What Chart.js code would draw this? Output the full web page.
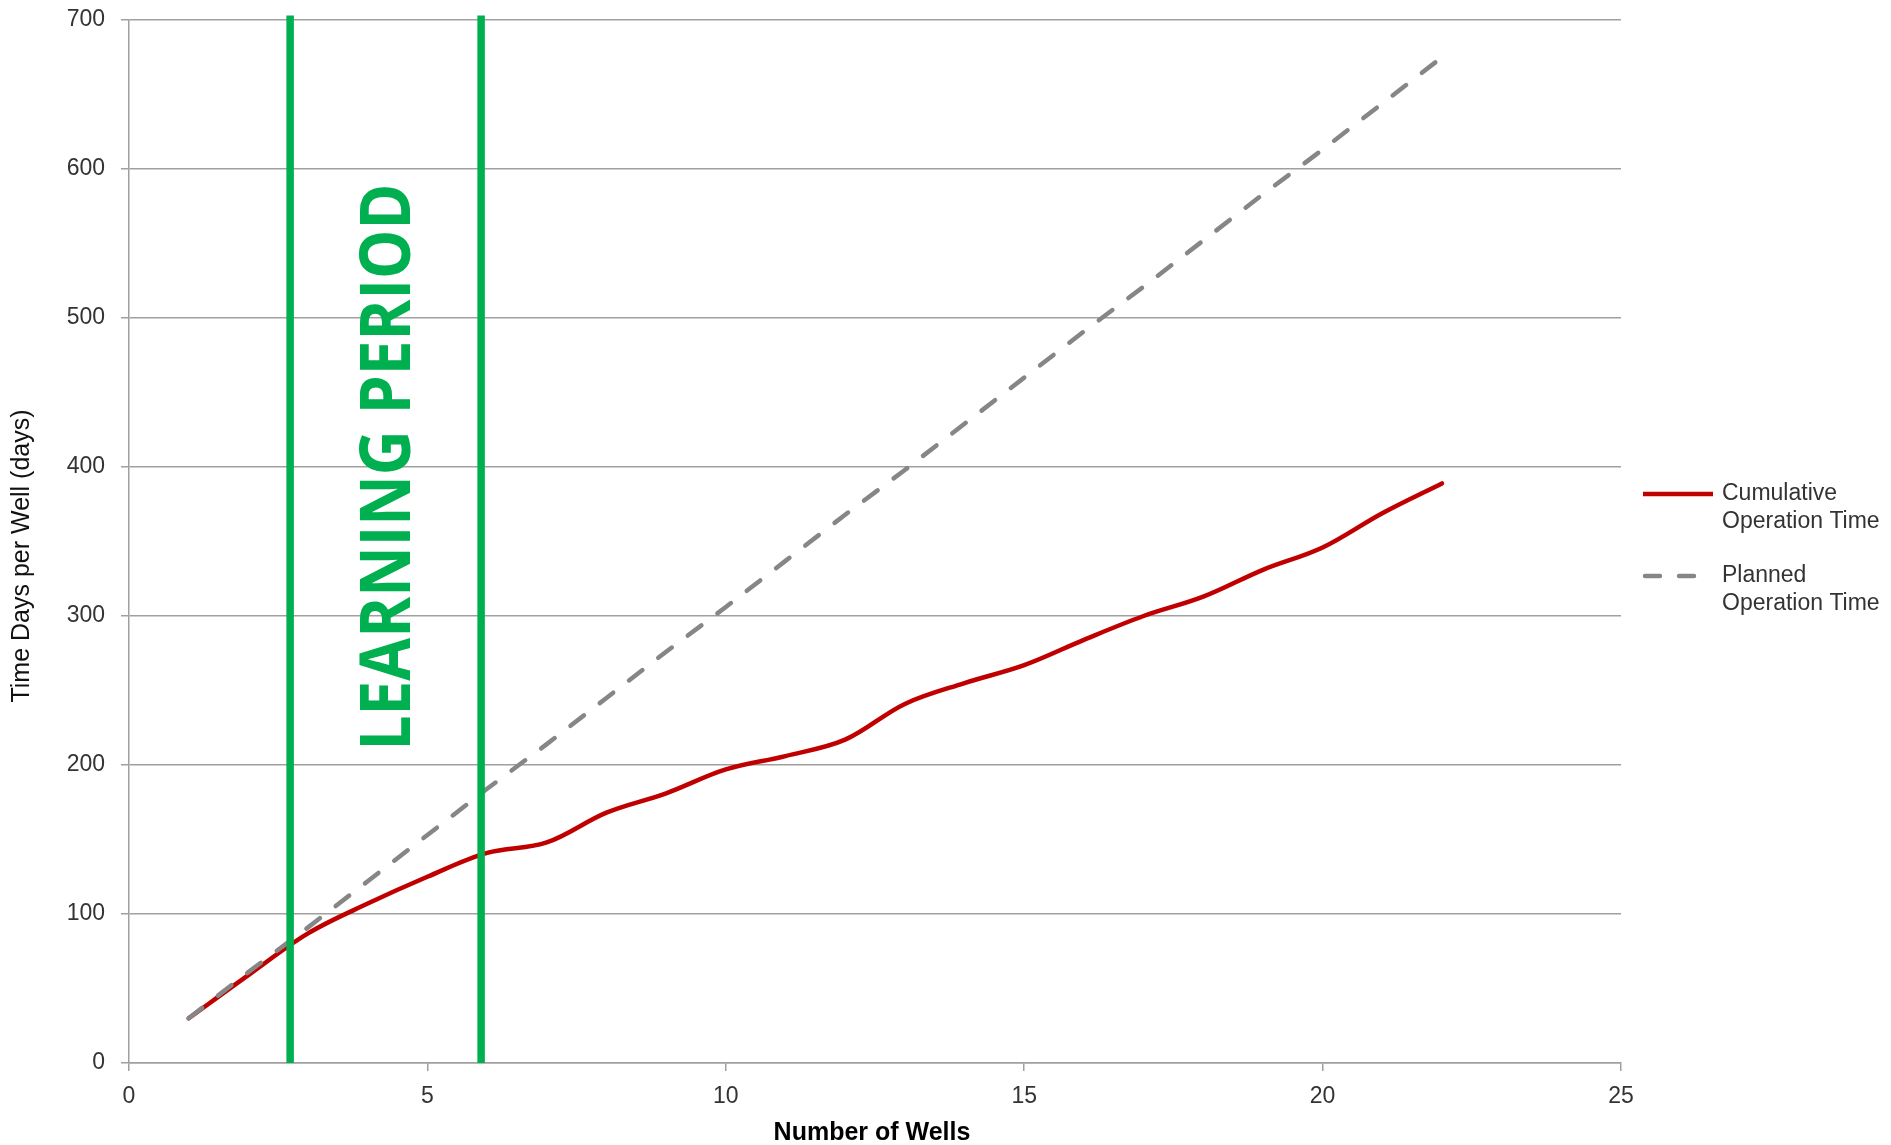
<!DOCTYPE html>
<html>
<head>
<meta charset="utf-8">
<script src="https://cdn.jsdelivr.net/npm/chart.js@4.4.1/dist/chart.umd.min.js"></script>
<style>
  html, body { margin: 0; padding: 0; background: #fff; }
  #wrap { width: 1891px; height: 1145px; }
</style>
</head>
<body>
<div id="wrap"><canvas id="myChart" width="1891" height="1145"></canvas></div>
<script>
/* global Chart */
const wells = [1, 2, 3, 4, 5, 6, 7, 8, 9, 10, 11, 12, 13, 14, 15, 16, 17, 18, 19, 20, 21, 22]
const cumulativeTime = [30, 59, 87, 107, 125, 141, 148, 168, 181, 197, 206, 217, 241, 255, 267, 284, 300, 313, 331, 346, 369, 389]
const plannedTime = [30, 61, 91, 122, 153, 184, 214, 245, 276, 306, 337, 368, 398, 429, 460, 491, 521, 552, 583, 613, 644, 675]
const learningPeriod = [2.7, 5.9]
const seriesLabels = [['Cumulative', 'Operation Time'], ['Planned', 'Operation Time']]
const xTitle = 'Number of Wells'
const yTitle = 'Time Days per Well (days)'
const bandLabel = 'LEARNING PERIOD'

const RED = '#C00000'
const GREY = '#868686'
const GREEN = '#00B050'
const GRID = '#a0a0a0'
const TEXT = '#333'
const FONT = "'Liberation Sans', Arial, sans-serif"

const toPoints = values => wells.map((w, i) => ({ x: w, y: values[i] }))

const greenLines = learningPeriod.map(x => ({
  label: 'learning',
  data: [{ x, y: 0 }, { x, y: 703 }],
  borderColor: GREEN,
  borderWidth: 7.5,
  pointRadius: 0,
  tension: 0,
  clip: false
}))

const extras = {
  id: 'extras',
  afterDatasetsDraw (chart) {
    const { ctx, scales: { x, y } } = chart
    // vertical label between the two green lines
    const size = 69
    ctx.save()
    ctx.font = `bold ${size}px 'Open Sans', sans-serif`
    const w = ctx.measureText(bandLabel).width
    ctx.translate(x.getPixelForValue(4.3), y.getPixelForValue(400))
    ctx.rotate(-Math.PI / 2)
    ctx.scale(567 / w, 1)
    ctx.fillStyle = GREEN
    ctx.textAlign = 'center'
    ctx.textBaseline = 'alphabetic'
    ctx.fillText(bandLabel, 0, size * 0.714 / 2)
    ctx.restore()
  },
  afterDraw (chart) {
    const { ctx } = chart
    ctx.save()
    ctx.fillStyle = '#111'
    ctx.font = `25px ${FONT}`
    ctx.translate(29, 556)
    ctx.rotate(-Math.PI / 2)
    ctx.textAlign = 'center'
    ctx.textBaseline = 'alphabetic'
    ctx.fillText(yTitle, 0, 0)
    ctx.restore()

    ctx.save()
    ctx.fillStyle = '#000'
    ctx.font = `bold 25px ${FONT}`
    ctx.textAlign = 'center'
    ctx.textBaseline = 'alphabetic'
    ctx.fillText(xTitle, 872, 1140)
    ctx.restore()

    // legend
    const items = [chart.data.datasets[3], chart.data.datasets[2]]
    const rows = [494, 576]
    items.forEach((ds, i) => {
      const ly = rows[i]
      ctx.save()
      ctx.strokeStyle = ds.borderColor
      ctx.lineWidth = ds.borderWidth
      ctx.lineCap = ds.borderDash ? 'round' : 'butt'
      ctx.setLineDash(ds.borderDash ? [15, 19] : [])
      ctx.beginPath()
      ctx.moveTo(ds.borderDash ? 1645 : 1643, ly)
      ctx.lineTo(1713, ly)
      ctx.stroke()
      ctx.fillStyle = TEXT
      ctx.font = `23px ${FONT}`
      ctx.textAlign = 'left'
      ctx.textBaseline = 'middle'
      seriesLabels[i].forEach((t, j) => ctx.fillText(t, 1722, ly + j * 28))
      ctx.restore()
    })
  }
}

const config = {
  type: 'line',
  data: {
    datasets: [
      ...greenLines,
      {
        label: 'Planned Operation Time',
        data: toPoints(plannedTime),
        borderColor: GREY,
        borderWidth: 4.5,
        borderDash: [17, 20],
        borderCapStyle: 'round',
        pointRadius: 0,
        tension: 0
      },
      {
        label: 'Cumulative Operation Time',
        data: toPoints(cumulativeTime),
        borderColor: RED,
        borderWidth: 4.5,
        borderCapStyle: 'round',
        pointRadius: 0,
        tension: 0.35
      }
    ]
  },
  options: {
    responsive: false,
    animation: false,
    devicePixelRatio: 1,
    layout: { padding: { top: 20, right: 270, left: 0, bottom: 0 } },
    plugins: { legend: { display: false }, tooltip: { enabled: false } },
    scales: {
      x: {
        type: 'linear',
        min: 0,
        max: 25,
        ticks: { stepSize: 5, padding: 12, color: TEXT, font: { family: FONT, size: 23 } },
        grid: { drawOnChartArea: false, drawTicks: true, tickLength: 8, color: GRID, lineWidth: 1.5 },
        border: { color: GRID, width: 1.5 },
        afterFit: s => { s.height = 82 }
      },
      y: {
        min: 0,
        max: 700,
        ticks: { stepSize: 100, padding: 16, color: TEXT, font: { family: FONT, size: 23 } },
        grid: { color: GRID, lineWidth: 1.5, tickLength: 8 },
        border: { color: GRID, width: 1.5 },
        afterFit: s => {
          s.width = 129
          s.paddingTop = 0
          s.paddingBottom = 0
        }
      }
    }
  },
  plugins: [extras]
}

const myChart = new Chart(document.getElementById('myChart'), config)
</script>
</body>
</html>
